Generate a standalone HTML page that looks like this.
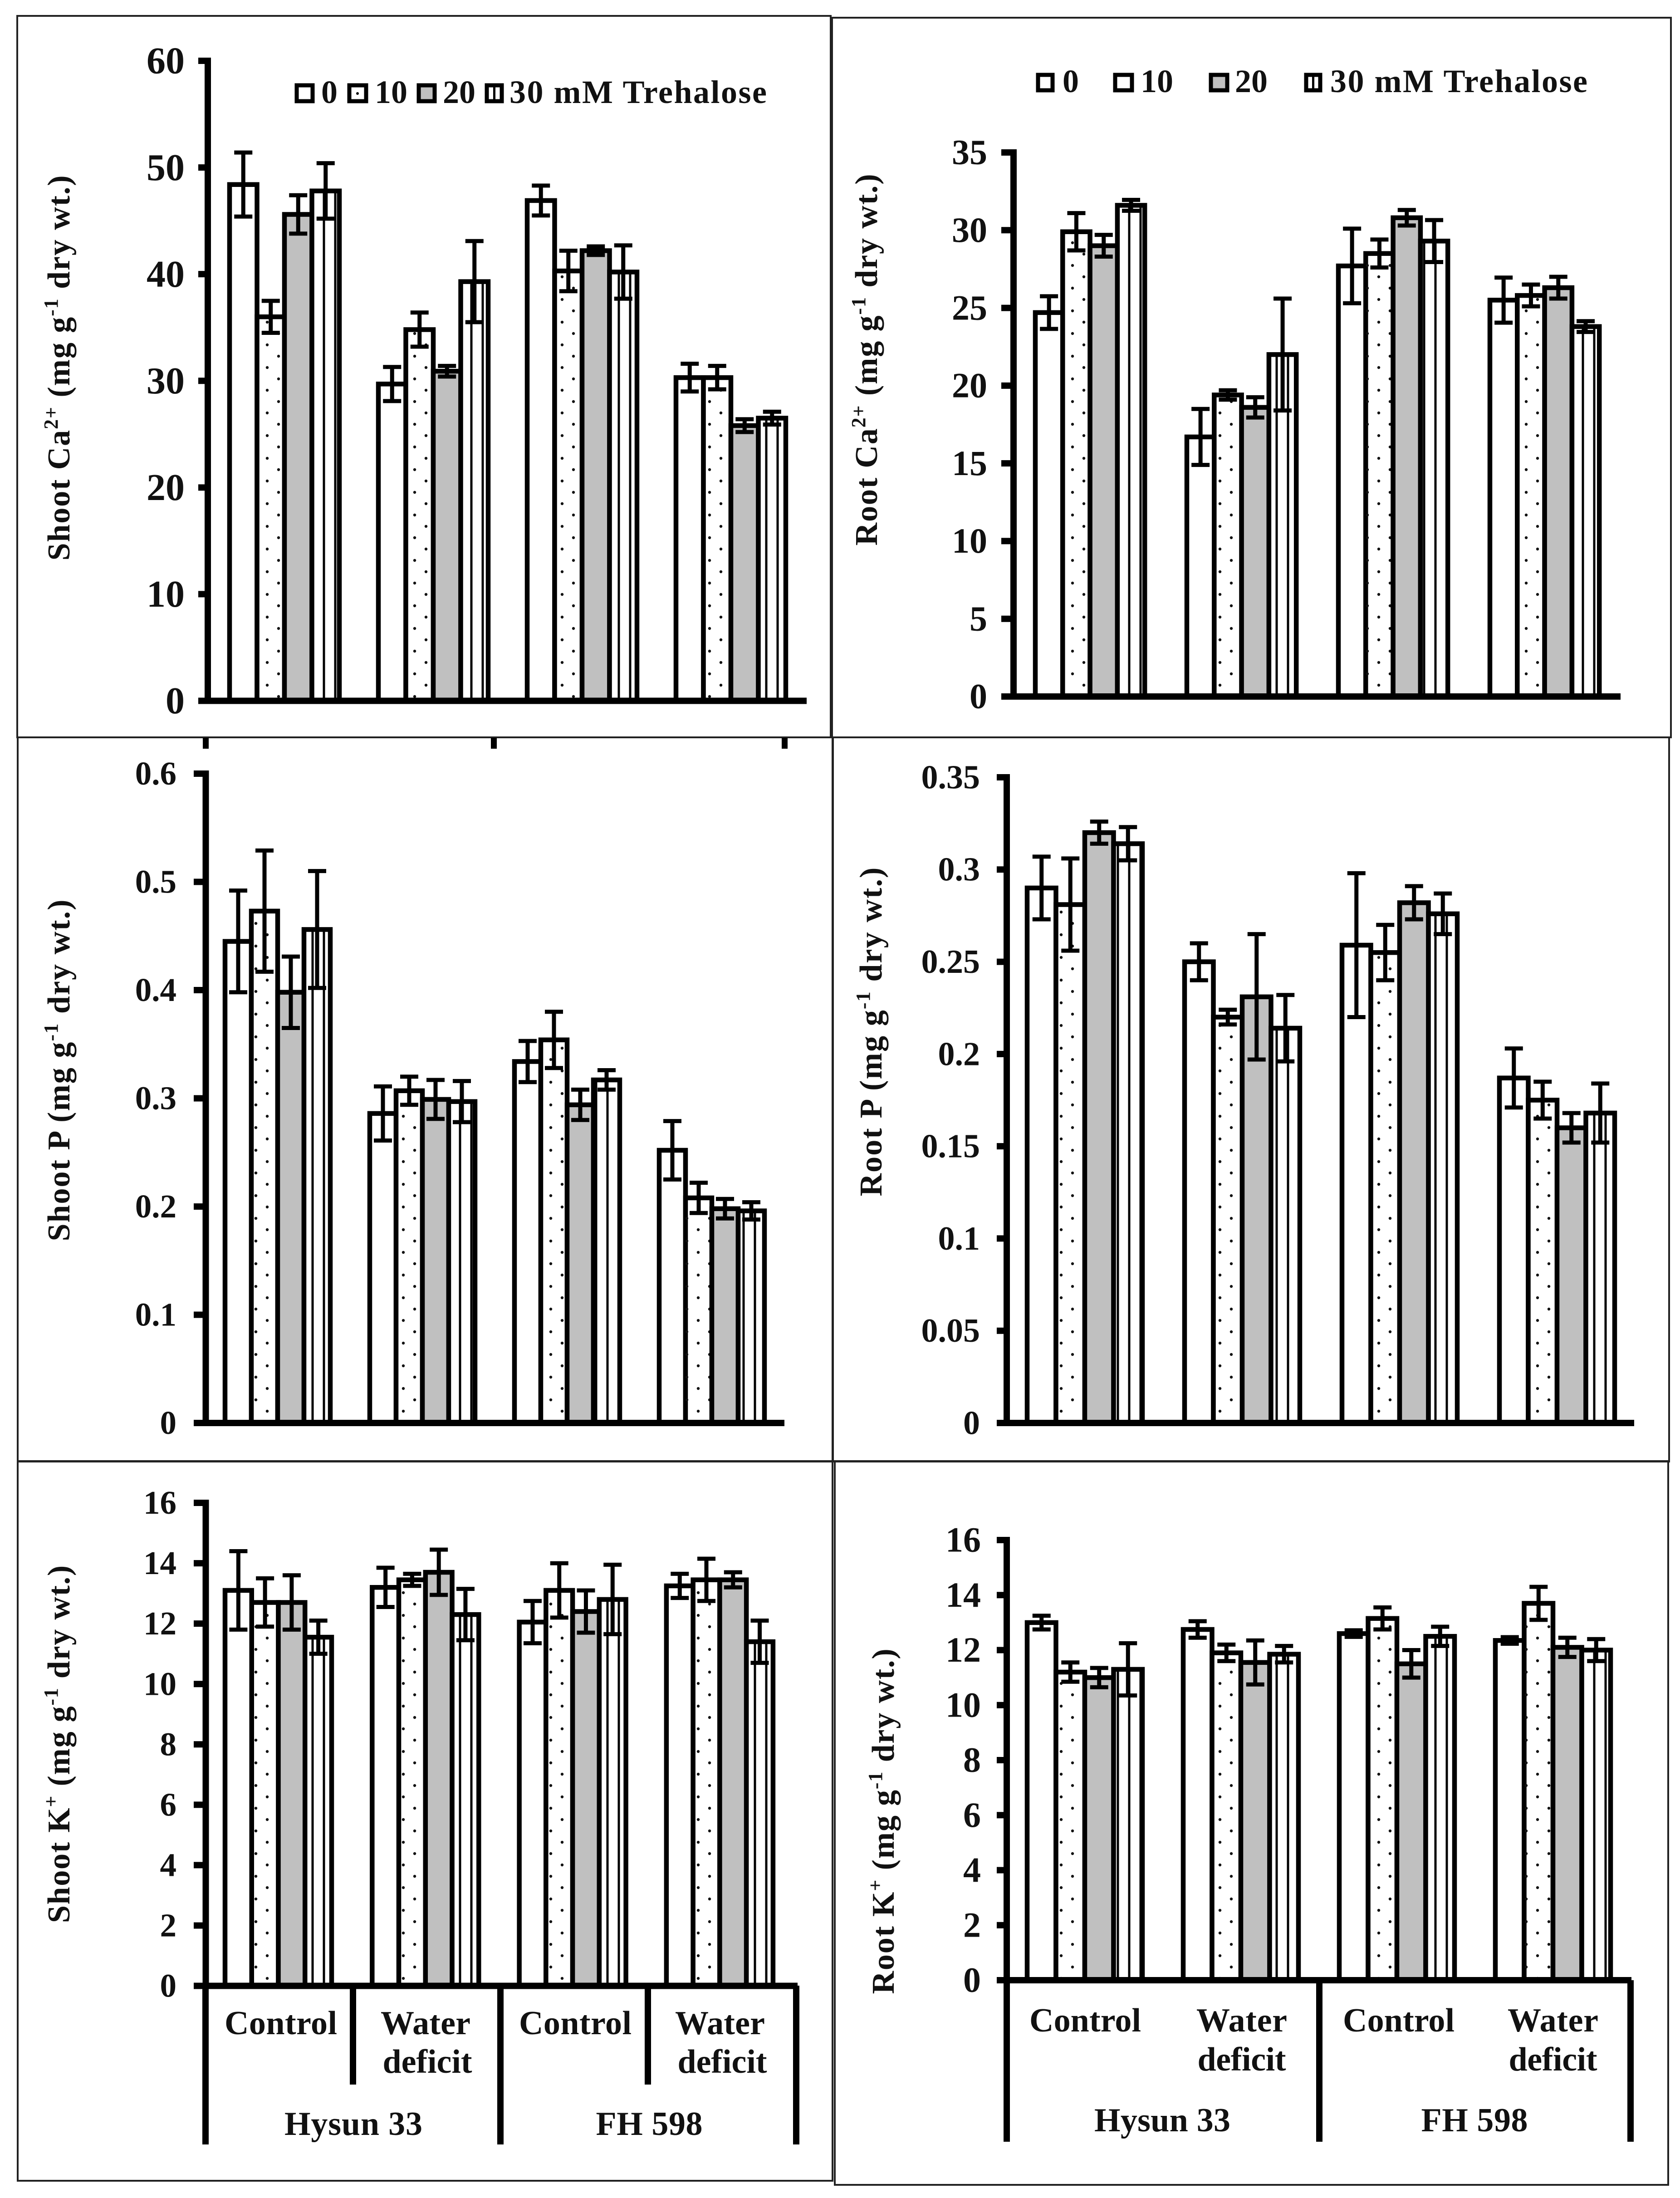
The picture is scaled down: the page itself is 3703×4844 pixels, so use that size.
<!DOCTYPE html>
<html lang="en">
<head>
<meta charset="utf-8">
<title>Shoot and root mineral content under trehalose treatment</title>
<style>
  html, body { margin: 0; padding: 0; background: #fff; }
  svg { display: block; }
  text { font-family: "Liberation Serif", serif; font-weight: bold; fill: #111; }
  .title { font-size: 70px; }
  .cat { font-size: 74px; text-anchor: middle; }
  .leg { font-size: 72px; }
  .border { fill: none; stroke: #222; stroke-width: 4; }
  .sw { fill: #fff; stroke: #000; stroke-width: 9; }
</style>
</head>
<body>
<svg id="figure" xmlns="http://www.w3.org/2000/svg" width="3703" height="4844" viewBox="0 0 3703 4844">
  <rect x="0" y="0" width="3703" height="4844" fill="#fff"/>

  <rect class="border" x="38" y="35" width="1793" height="1590"/>
  <rect class="border" x="1834" y="39" width="1849" height="1586"/>
  <rect class="border" x="39" y="1625" width="1796" height="1596"/>
  <rect class="border" x="1836" y="1625" width="1843" height="1596"/>
  <rect class="border" x="39" y="3220" width="1796" height="1586"/>
  <rect class="border" x="1840" y="3220" width="1837" height="1595"/>

  <g id="plots"></g>

  <g fill="#000">
    <rect x="447" y="1626" width="13" height="24"/>
    <rect x="1082" y="1626" width="13" height="24"/>
    <rect x="1723" y="1626" width="13" height="24"/>
  </g>

  <text class="title" data-len="851" transform="translate(153 810) rotate(-90)" text-anchor="middle">Shoot Ca<tspan font-size="44" dy="-26">2+</tspan><tspan dy="26"> (mg g</tspan><tspan font-size="44" dy="-26">-1</tspan><tspan dy="26"> dry wt.)</tspan></text>
  <text class="title" data-len="821" transform="translate(1933 792) rotate(-90)" text-anchor="middle">Root Ca<tspan font-size="44" dy="-26">2+</tspan><tspan dy="26"> (mg g</tspan><tspan font-size="44" dy="-26">-1</tspan><tspan dy="26"> dry wt.)</tspan></text>
  <text class="title" data-len="755" transform="translate(153 2358) rotate(-90)" text-anchor="middle">Shoot P (mg g<tspan font-size="44" dy="-26">-1</tspan><tspan dy="26"> dry wt.)</tspan></text>
  <text class="title" data-len="727" transform="translate(1943 2273) rotate(-90)" text-anchor="middle">Root P (mg g<tspan font-size="44" dy="-26">-1</tspan><tspan dy="26"> dry wt.)</tspan></text>
  <text class="title" data-len="790" transform="translate(153 3843) rotate(-90)" text-anchor="middle">Shoot K<tspan font-size="44" dy="-26">+</tspan><tspan dy="26"> (mg g</tspan><tspan font-size="44" dy="-26">-1</tspan><tspan dy="26"> dry wt.)</tspan></text>
  <text class="title" data-len="763" transform="translate(1970 4013) rotate(-90)" text-anchor="middle">Root K<tspan font-size="44" dy="-26">+</tspan><tspan dy="26"> (mg g</tspan><tspan font-size="44" dy="-26">-1</tspan><tspan dy="26"> dry wt.)</tspan></text>

  <g>
    <rect class="sw" x="654" y="188" width="35" height="35"/>
    <text class="leg" x="708" y="227">0</text>
    <rect class="sw" x="770" y="188" width="37" height="35"/>
    <circle cx="788" cy="206" r="3" fill="#000"/>
    <text class="leg" x="826" y="227">10</text>
    <rect class="sw" x="923" y="188" width="35" height="35" style="fill:#c0c0c0"/>
    <text class="leg" x="976" y="227">20</text>
    <rect class="sw" x="1073" y="188" width="33" height="35"/>
    <rect x="1087" y="188" width="5" height="35" fill="#000"/>
    <text class="leg" x="1123" y="227" textLength="567" lengthAdjust="spacing">30 mM Trehalose</text>
  </g>
  <g>
    <rect class="sw" x="2288" y="165" width="32" height="34"/>
    <text class="leg" x="2342" y="203">0</text>
    <rect class="sw" x="2458" y="165" width="37" height="34"/>
    <text class="leg" x="2514" y="203">10</text>
    <rect class="sw" x="2669" y="165" width="36" height="34" style="fill:#c0c0c0"/>
    <text class="leg" x="2722" y="203">20</text>
    <rect class="sw" x="2879" y="165" width="31" height="34"/>
    <rect x="2892" y="165" width="5" height="34" fill="#000"/>
    <text class="leg" x="2932" y="203" textLength="567" lengthAdjust="spacing">30 mM Trehalose</text>
  </g>

  <g>
    <g fill="#000">
      <rect x="446" y="4376" width="14" height="350"/>
      <rect x="771" y="4376" width="14" height="218"/>
      <rect x="1096" y="4376" width="14" height="350"/>
      <rect x="1421" y="4376" width="14" height="218"/>
      <rect x="1748" y="4376" width="14" height="350"/>
    </g>
    <text class="cat" x="619" y="4483" textLength="248">Control</text>
    <text class="cat" x="938" y="4483" textLength="198">Water</text>
    <text class="cat" x="942" y="4568" textLength="197">deficit</text>
    <text class="cat" x="1268" y="4483" textLength="248">Control</text>
    <text class="cat" x="1587" y="4483" textLength="198">Water</text>
    <text class="cat" x="1592" y="4568" textLength="197">deficit</text>
    <text class="cat" x="779" y="4705" textLength="304">Hysun 33</text>
    <text class="cat" x="1431" y="4705" textLength="235">FH 598</text>
  </g>
  <g>
    <g fill="#000">
      <rect x="2212" y="4364" width="14" height="356"/>
      <rect x="2901" y="4364" width="14" height="356"/>
      <rect x="3587" y="4364" width="14" height="356"/>
    </g>
    <text class="cat" x="2392" y="4477" textLength="246">Control</text>
    <text class="cat" x="2737" y="4477" textLength="200">Water</text>
    <text class="cat" x="2737" y="4563" textLength="195">deficit</text>
    <text class="cat" x="3083" y="4477" textLength="246">Control</text>
    <text class="cat" x="3423" y="4477" textLength="200">Water</text>
    <text class="cat" x="3423" y="4563" textLength="195">deficit</text>
    <text class="cat" x="2562" y="4697" textLength="300">Hysun 33</text>
    <text class="cat" x="3250" y="4697" textLength="235">FH 598</text>
  </g>
</svg>

<script>
// Values: one row per group (Hysun 33 control, Hysun 33 deficit, FH 598 control, FH 598 deficit),
// one column per trehalose level (0, 10, 20, 30 mM).
const shootCaTicks = ['0', '10', '20', '30', '40', '50', '60'];
const shootCaValues = [[48.4, 36.0, 45.6, 47.8], [29.7, 34.8, 30.9, 39.3], [46.9, 40.3, 42.2, 40.2], [30.3, 30.3, 25.8, 26.5]];
const shootCaErrors = [[3.0, 1.5, 1.8, 2.6], [1.6, 1.6, 0.5, 3.8], [1.4, 1.9, 0.4, 2.5], [1.3, 1.1, 0.6, 0.6]];

const rootCaTicks = ['0', '5', '10', '15', '20', '25', '30', '35'];
const rootCaValues = [[24.7, 29.9, 29.0, 31.6], [16.7, 19.4, 18.6, 22.0], [27.7, 28.5, 30.8, 29.3], [25.5, 25.8, 26.3, 23.8]];
const rootCaErrors = [[1.05, 1.2, 0.7, 0.35], [1.8, 0.3, 0.65, 3.6], [2.4, 0.9, 0.5, 1.35], [1.45, 0.7, 0.7, 0.35]];

const shootPTicks = ['0', '0.1', '0.2', '0.3', '0.4', '0.5', '0.6'];
const shootPValues = [[0.445, 0.473, 0.398, 0.456], [0.286, 0.307, 0.299, 0.297], [0.334, 0.354, 0.294, 0.317], [0.252, 0.208, 0.198, 0.196]];
const shootPErrors = [[0.047, 0.056, 0.033, 0.054], [0.025, 0.013, 0.018, 0.019], [0.019, 0.026, 0.014, 0.009], [0.027, 0.014, 0.009, 0.008]];

const rootPTicks = ['0', '0.05', '0.1', '0.15', '0.2', '0.25', '0.3', '0.35'];
const rootPValues = [[0.29, 0.281, 0.32, 0.314], [0.25, 0.22, 0.231, 0.214], [0.259, 0.255, 0.282, 0.276], [0.187, 0.175, 0.16, 0.168]];
const rootPErrors = [[0.017, 0.025, 0.006, 0.009], [0.01, 0.004, 0.034, 0.018], [0.039, 0.015, 0.009, 0.011], [0.016, 0.01, 0.008, 0.016]];

const shootKTicks = ['0', '2', '4', '6', '8', '10', '12', '14', '16'];
const shootKValues = [[13.1, 12.7, 12.7, 11.55], [13.2, 13.45, 13.7, 12.3], [12.05, 13.1, 12.4, 12.8], [13.25, 13.45, 13.45, 11.4]];
const shootKErrors = [[1.3, 0.8, 0.9, 0.55], [0.65, 0.2, 0.75, 0.85], [0.7, 0.9, 0.7, 1.15], [0.4, 0.7, 0.25, 0.7]];

const rootKTicks = ['0', '2', '4', '6', '8', '10', '12', '14', '16'];
const rootKValues = [[13.0, 11.2, 11.0, 11.3], [12.75, 11.9, 11.55, 11.85], [12.6, 13.15, 11.5, 12.5], [12.35, 13.7, 12.1, 12.0]];
const rootKErrors = [[0.25, 0.35, 0.35, 0.95], [0.3, 0.3, 0.8, 0.3], [0.12, 0.4, 0.5, 0.35], [0.12, 0.6, 0.35, 0.4]];

const NS = 'http://www.w3.org/2000/svg';
const plots = document.getElementById('plots');
// The dot and stripe fills of the source sit on a shared 25 px page grid.
const GRID = 25;
const GRID_X = 14;
const GRID_Y = 10;

function make(parent, tag, attrs) {
  const el = document.createElementNS(NS, tag);
  for (const k in attrs) el.setAttribute(k, attrs[k]);
  parent.appendChild(el);
  return el;
}

function drawPanel(p) {
  const yMax = parseFloat(p.ticks[p.ticks.length - 1]);
  const yScale = function (v) { return p.y0 - (v / yMax) * (p.y0 - p.yTop); };
  const xScale = function (g, b) { return p.x0 + g * p.step + b * p.barW; };

  const root = make(plots, 'g', {});
  
  

  p.values.forEach(function (row, g) {
    row.forEach(function (v, b) {
      const x = xScale(g, b);
      const y = yScale(v);
      const bar = make(root, 'rect', {
        x: x, y: y, width: p.barW, height: p.y0 - y,
        fill: b === 2 ? '#c0c0c0' : '#fff', stroke: '#000', 'stroke-width': 10.5
      });
      
      

      const firstCol = Math.ceil((x + 3 - GRID_X) / GRID);
      const lastCol = Math.floor((x + p.barW - 3 - GRID_X) / GRID);

      if (b === 1) {
        for (let i = firstCol; i <= lastCol; i++) {
          const firstRow = Math.ceil((y + 8 - GRID_Y) / GRID);
          const lastRow = Math.floor((p.y0 - GRID_Y) / GRID);
          for (let j = firstRow; j <= lastRow; j++) {
            if ((i + j) % 2 !== 1) continue;
            const dot = make(root, 'circle', {
              cx: GRID_X + i * GRID, cy: GRID_Y + j * GRID, r: 3.2, fill: '#111'
            });
            
            
          }
        }
      }
      if (b === 3) {
        for (let i = firstCol; i <= lastCol; i++) {
          const sx = GRID_X + i * GRID;
          const stripe = make(root, 'line', {
            x1: sx, x2: sx, y1: y, y2: p.y0, stroke: '#000', 'stroke-width': 5
          });
          
          
        }
      }
    });
  });

  p.values.forEach(function (row, g) {
    row.forEach(function (v, b) {
      const e = p.errors[g][b];
      const cx = xScale(g, b) + p.barW / 2;
      const top = yScale(v + e);
      const bottom = yScale(v - e);
      const err = make(root, 'path', {
        d: 'M' + cx + ' ' + top + 'V' + bottom +
           'M' + (cx - 20) + ' ' + top + 'H' + (cx + 20) +
           'M' + (cx - 20) + ' ' + bottom + 'H' + (cx + 20),
        fill: 'none', stroke: '#000', 'stroke-width': 9
      });
      
      
    });
  });

  const yAxis = make(root, 'line', {
    x1: p.axisX, x2: p.axisX, y1: p.yTop - 7, y2: p.y0 + 7, stroke: '#000', 'stroke-width': 14
  });
  
  

  const xAxis = make(root, 'line', {
    x1: p.tickX, x2: p.axisRight, y1: p.y0, y2: p.y0, stroke: '#000', 'stroke-width': 14
  });
  
  

  p.ticks.forEach(function (label) {
    const y = yScale(parseFloat(label));
    const tick = make(root, 'line', {
      x1: p.tickX, x2: p.axisX, y1: y, y2: y, stroke: '#000', 'stroke-width': 14
    });
    
    

    const text = make(root, 'text', {
      x: p.labelX, y: y + p.fontSize * 0.33, 'text-anchor': 'end', 'font-size': p.fontSize
    });
    
    
    text.textContent = label;
  });
}

drawPanel({ name: 'shoot-ca', ticks: shootCaTicks, values: shootCaValues, errors: shootCaErrors,
  axisX: 458, tickX: 437, axisRight: 1778, yTop: 134, y0: 1544.5, x0: 506, step: 328, barW: 60.5, labelX: 407, fontSize: 84 });
drawPanel({ name: 'root-ca', ticks: rootCaTicks, values: rootCaValues, errors: rootCaErrors,
  axisX: 2234, tickX: 2207, axisRight: 3572, yTop: 336, y0: 1535, x0: 2282, step: 334, barW: 60.3, labelX: 2176, fontSize: 78 });
drawPanel({ name: 'shoot-p', ticks: shootPTicks, values: shootPValues, errors: shootPErrors,
  axisX: 453.5, tickX: 427, axisRight: 1729, yTop: 1705, y0: 3136, x0: 496, step: 319, barW: 58, labelX: 389, fontSize: 73 });
drawPanel({ name: 'root-p', ticks: rootPTicks, values: rootPValues, errors: rootPErrors,
  axisX: 2219, tickX: 2197, axisRight: 3602, yTop: 1713, y0: 3136, x0: 2264, step: 347, barW: 63.5, labelX: 2160, fontSize: 74 });
drawPanel({ name: 'shoot-k', ticks: shootKTicks, values: shootKValues, errors: shootKErrors,
  axisX: 453.5, tickX: 427, axisRight: 1758, yTop: 3312, y0: 4376.5, x0: 496, step: 324.3, barW: 58.75, labelX: 389, fontSize: 73 });
drawPanel({ name: 'root-k', ticks: rootKTicks, values: rootKValues, errors: rootKErrors,
  axisX: 2219, tickX: 2197, axisRight: 3596, yTop: 3394, y0: 4364, x0: 2264, step: 344, barW: 63.5, labelX: 2162, fontSize: 78 });

// Fit rotated axis titles to their measured length using letter spacing.
document.querySelectorAll('text[data-len]').forEach(function (t) {
  const target = parseFloat(t.getAttribute('data-len'));
  const len = t.getComputedTextLength();
  const n = t.textContent.length;
  t.style.letterSpacing = ((target - len) / n) + 'px';
});
</script>
</body>
</html>
